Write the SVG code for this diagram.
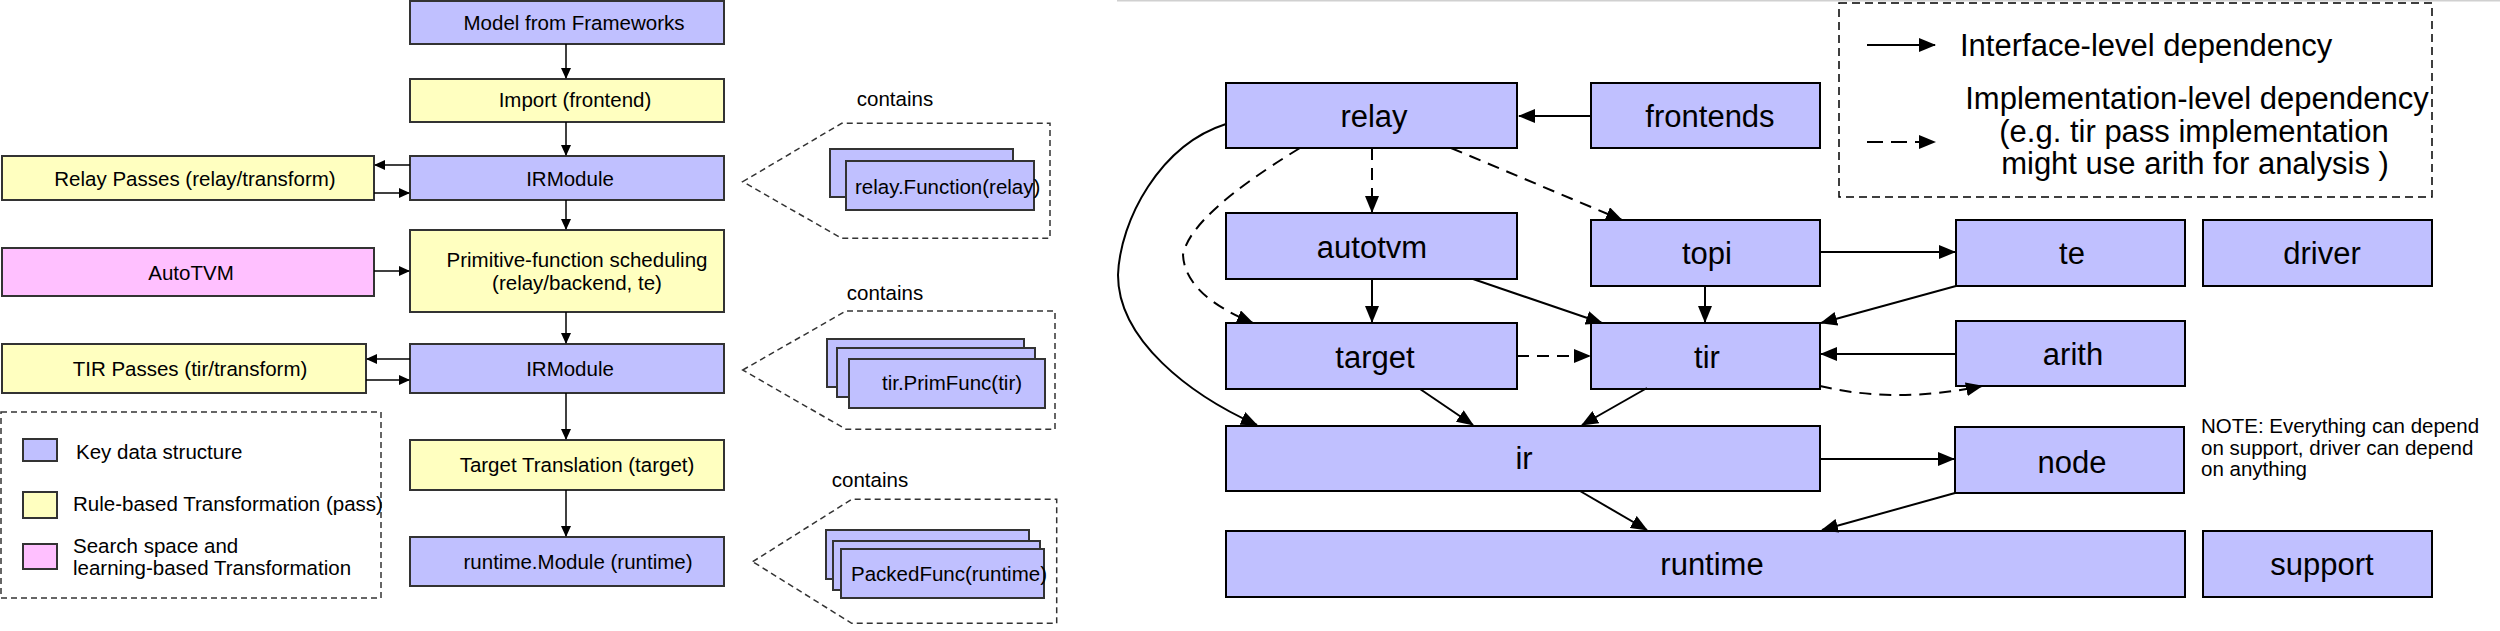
<svg xmlns="http://www.w3.org/2000/svg" width="2500" height="631" viewBox="0 0 2500 631">
<style>
text{font-family:"Liberation Sans",Arial,sans-serif;fill:#000}
.l{font-size:20.5px}
.r{font-size:31px}
.n{font-size:20.5px}
.c{text-anchor:middle}
.pu{fill:#c0c0ff;stroke:#333;stroke-width:2}
.ye{fill:#ffffc0;stroke:#333;stroke-width:2}
.pk{fill:#ffc0ff;stroke:#333;stroke-width:2}
.rn{fill:#c0c0ff;stroke:#000;stroke-width:2}
.dsh{fill:none;stroke:#333;stroke-width:1.5;stroke-dasharray:6 4}
.cl{fill:none;stroke:#000;stroke-width:1.5;marker-end:url(#s)}
.cr{fill:none;stroke:#000;stroke-width:2;marker-end:url(#a)}
.cd{fill:none;stroke:#000;stroke-width:2;stroke-dasharray:12 8;marker-end:url(#a)}
</style>
<defs>
<marker id="a" markerUnits="userSpaceOnUse" markerWidth="17" markerHeight="14" refX="16" refY="7" orient="auto"><path d="M0,0 L17,7 L0,14 z" fill="#000"/></marker>
<marker id="s" markerUnits="userSpaceOnUse" markerWidth="11" markerHeight="10" refX="10" refY="5" orient="auto"><path d="M0,0 L11,5 L0,10 z" fill="#000"/></marker>
</defs>
<rect width="2500" height="631" fill="#fff"/>
<line x1="1117" y1="0.5" x2="2500" y2="0.5" stroke="#d0d0d0" stroke-width="2"/>

<!-- Left diagram nodes -->
<g id="model-from-frameworks"><rect class="pu" x="410" y="1" width="314" height="43"/><text class="l c" x="574" y="30">Model from Frameworks</text></g>
<g id="import-frontend"><rect class="ye" x="410" y="79" width="314" height="43"/><text class="l c" x="575" y="107">Import (frontend)</text></g>
<g id="irmodule-1"><rect class="pu" x="410" y="156" width="314" height="44"/><text class="l c" x="570" y="186">IRModule</text></g>
<g id="relay-passes"><rect class="ye" x="2" y="156" width="372" height="44"/><text class="l c" x="195" y="186">Relay Passes (relay/transform)</text></g>
<g id="primitive-scheduling"><rect class="ye" x="410" y="230" width="314" height="82"/><text class="l c" x="577" y="267">Primitive-function scheduling</text><text class="l c" x="577" y="290">(relay/backend, te)</text></g>
<g id="autotvm-left"><rect class="pk" x="2" y="248" width="372" height="48"/><text class="l c" x="191" y="280">AutoTVM</text></g>
<g id="tir-passes"><rect class="ye" x="2" y="344" width="364" height="49"/><text class="l c" x="190" y="376">TIR Passes (tir/transform)</text></g>
<g id="irmodule-2"><rect class="pu" x="410" y="344" width="314" height="49"/><text class="l c" x="570" y="376">IRModule</text></g>
<g id="target-translation"><rect class="ye" x="410" y="440" width="314" height="50"/><text class="l c" x="577" y="472">Target Translation (target)</text></g>
<g id="runtime-module"><rect class="pu" x="410" y="537" width="314" height="49"/><text class="l c" x="578" y="569">runtime.Module (runtime)</text></g>

<!-- contains callouts -->
<g id="contains-relay-function">
<text class="l c" x="895" y="106">contains</text>
<polygon class="dsh" points="742.7,181.7 841.7,123.3 1050,123.3 1050,238.3 841.7,238.3"/>
<rect class="pu" x="830" y="149" width="183" height="48"/>
<rect class="pu" x="846" y="161" width="188" height="49"/>
<text class="l" x="855" y="194">relay.Function(relay)</text>
</g>
<g id="contains-prim-func">
<text class="l c" x="885" y="300">contains</text>
<polygon class="dsh" points="742.7,370 846,311 1055,311 1055,429.3 846,429.3"/>
<rect class="pu" x="827" y="339" width="197" height="48"/>
<rect class="pu" x="837" y="348" width="198" height="49"/>
<rect class="pu" x="849" y="359" width="196" height="49"/>
<text class="l c" x="952" y="390">tir.PrimFunc(tir)</text>
</g>
<g id="contains-packed-func">
<text class="l c" x="870" y="487">contains</text>
<polygon class="dsh" points="752.7,561.7 851.7,499.3 1056.7,499.3 1056.7,623.3 851.7,623.3"/>
<rect class="pu" x="826" y="530" width="203" height="49"/>
<rect class="pu" x="833" y="541" width="207" height="49"/>
<rect class="pu" x="841" y="549" width="203" height="49"/>
<text class="l" x="851" y="581">PackedFunc(runtime)</text>
</g>

<!-- Left legend -->
<g id="legend-left">
<rect class="dsh" x="1" y="412" width="380" height="186"/>
<rect class="pu" x="23" y="439" width="34" height="22"/>
<text class="l" x="76" y="459">Key data structure</text>
<rect class="ye" x="23" y="492" width="34" height="26"/>
<text class="l" x="73" y="511">Rule-based Transformation (pass)</text>
<rect class="pk" x="23" y="544" width="34" height="25"/>
<text class="l" x="73" y="553">Search space and</text>
<text class="l" x="73" y="575">learning-based Transformation</text>
</g>

<!-- Left connectors -->
<g id="connectors-left">
<line class="cl" x1="566" y1="44" x2="566" y2="78"/>
<line class="cl" x1="566" y1="122" x2="566" y2="155"/>
<line class="cl" x1="566" y1="200" x2="566" y2="229"/>
<line class="cl" x1="566" y1="312" x2="566" y2="343"/>
<line class="cl" x1="566" y1="393" x2="566" y2="439"/>
<line class="cl" x1="566" y1="490" x2="566" y2="536"/>
<line class="cl" x1="410" y1="165" x2="375" y2="165"/>
<line class="cl" x1="374" y1="193" x2="409" y2="193"/>
<line class="cl" x1="374" y1="271" x2="409" y2="271"/>
<line class="cl" x1="410" y1="359" x2="367" y2="359"/>
<line class="cl" x1="366" y1="380" x2="409" y2="380"/>
</g>

<!-- Right diagram nodes -->
<g id="relay"><rect class="rn" x="1226" y="83" width="291" height="65"/><text class="r c" x="1374" y="127">relay</text></g>
<g id="frontends"><rect class="rn" x="1591" y="83" width="229" height="65"/><text class="r c" x="1710" y="127">frontends</text></g>
<g id="autotvm"><rect class="rn" x="1226" y="213" width="291" height="66"/><text class="r c" x="1372" y="258">autotvm</text></g>
<g id="topi"><rect class="rn" x="1591" y="220" width="229" height="66"/><text class="r c" x="1707" y="264">topi</text></g>
<g id="te"><rect class="rn" x="1956" y="220" width="229" height="66"/><text class="r c" x="2072" y="264">te</text></g>
<g id="driver"><rect class="rn" x="2203" y="220" width="229" height="66"/><text class="r c" x="2322" y="264">driver</text></g>
<g id="target"><rect class="rn" x="1226" y="323" width="291" height="66"/><text class="r c" x="1375" y="368">target</text></g>
<g id="tir"><rect class="rn" x="1591" y="323" width="229" height="66"/><text class="r c" x="1707" y="368">tir</text></g>
<g id="arith"><rect class="rn" x="1956" y="321" width="229" height="65"/><text class="r c" x="2073" y="365">arith</text></g>
<g id="ir"><rect class="rn" x="1226" y="426" width="594" height="65"/><text class="r c" x="1524" y="469">ir</text></g>
<g id="node"><rect class="rn" x="1955" y="427" width="229" height="66"/><text class="r c" x="2072" y="473">node</text></g>
<g id="runtime"><rect class="rn" x="1226" y="531" width="959" height="66"/><text class="r c" x="1712" y="575">runtime</text></g>
<g id="support"><rect class="rn" x="2203" y="531" width="229" height="66"/><text class="r c" x="2322" y="575">support</text></g>

<g id="note"><text class="n" x="2201" y="433">NOTE: Everything can depend</text><text class="n" x="2201" y="455">on support, driver can depend</text><text class="n" x="2201" y="476">on anything</text></g>

<!-- Right legend -->
<g id="legend-right">
<rect x="1839" y="3" width="593" height="194" fill="none" stroke="#000" stroke-width="1.5" stroke-dasharray="8 5"/>
<line class="cr" x1="1867" y1="45" x2="1935" y2="45"/>
<text class="r" x="1960" y="56">Interface-level dependency</text>
<line x1="1867" y1="142" x2="1935" y2="142" stroke="#000" stroke-width="2" stroke-dasharray="16 8" marker-end="url(#a)"/>
<text class="r c" x="2197" y="109">Implementation-level dependency</text>
<text class="r c" x="2194" y="142">(e.g. tir pass implementation</text>
<text class="r c" x="2195" y="174">might use arith for analysis )</text>
</g>

<!-- Right connectors -->
<g id="connectors-right">
<line class="cr" x1="1591" y1="116" x2="1519" y2="116"/>
<line class="cd" x1="1372" y1="148" x2="1372" y2="212"/>
<line class="cd" x1="1451" y1="148" x2="1622" y2="220"/>
<path class="cd" d="M1300,148 Q1190,215 1183,255 Q1185,295 1253,323"/>
<path class="cr" d="M1226,124 C1160,145 1120,220 1118,275 C1118,340 1190,395 1257,425"/>
<line class="cr" x1="1372" y1="279" x2="1372" y2="322"/>
<line class="cr" x1="1473" y1="279" x2="1602" y2="323"/>
<line class="cr" x1="1705" y1="286" x2="1705" y2="322"/>
<line class="cr" x1="1820" y1="252" x2="1955" y2="252"/>
<line class="cr" x1="1956" y1="286" x2="1821" y2="323"/>
<line class="cd" x1="1517" y1="356" x2="1590" y2="356"/>
<line class="cr" x1="1956" y1="354" x2="1821" y2="354"/>
<path class="cd" d="M1820,386 Q1895,404 1982,386"/>
<line class="cr" x1="1420" y1="389" x2="1473" y2="425"/>
<line class="cr" x1="1647" y1="388" x2="1582" y2="425"/>
<line class="cr" x1="1820" y1="459" x2="1954" y2="459"/>
<line class="cr" x1="1580" y1="491" x2="1647" y2="530"/>
<line class="cr" x1="1955" y1="493" x2="1822" y2="530"/>
</g>
</svg>
